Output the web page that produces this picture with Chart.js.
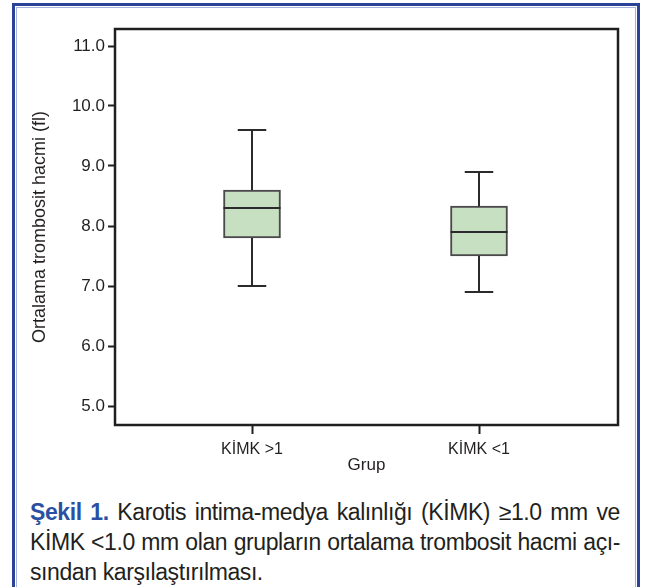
<!DOCTYPE html>
<html>
<head>
<meta charset="utf-8">
<script src="https://cdn.jsdelivr.net/npm/chart.js@4.4.1/dist/chart.umd.min.js"></script>
<style>
  html, body { margin: 0; padding: 0; background: #fff; }
  body { width: 653px; height: 587px; position: relative; overflow: hidden; font-family: "Liberation Sans", Arial, sans-serif; }
  #frame { position: absolute; left: 12px; top: 3px; width: 622px; height: 620px; border: 3px solid #2b4396; }
  #frame2 { position: absolute; left: 1px; top: 1px; right: 1px; bottom: 1px; border: 1px solid #a7b3db; }
  #wrap { position: absolute; left: 0; top: 0; width: 653px; height: 480px; }
  #caption { position: absolute; left: 30px; top: 497px; width: 590px; font-size: 23px; line-height: 30px; color: #231f20; letter-spacing: -0.4px; }
  #caption .ln { text-align: justify; text-align-last: justify; white-space: nowrap; }
  #caption .last { text-align: left; text-align-last: left; }
  #caption b { color: #2b4fa3; }
</style>
</head>
<body>
<div id="frame"><div id="frame2"></div></div>
<div id="wrap"><canvas id="c" width="653" height="480"></canvas></div>
<div id="caption">
  <div class="ln"><b>Şekil 1.</b> Karotis intima-medya kalınlığı (KİMK) ≥1.0 mm ve</div>
  <div class="ln">KİMK &lt;1.0 mm olan grupların ortalama trombosit hacmi açı-</div>
  <div class="ln last">sından karşılaştırılması.</div>
</div>
<script>
const categories = ['KİMK >1', 'KİMK <1'];
const whiskerMin = [7.0, 6.9];
const q1 = [7.8, 7.5];
const median = [8.3, 7.9];
const q3 = [8.6, 8.33];
const whiskerMax = [9.6, 8.9];
const yTickValues = [5, 6, 7, 8, 9, 10, 11];
const yTitle = 'Ortalama trombosit hacmi (fl)';
const xTitle = 'Grup';

const FONT = '"Liberation Sans", Arial, sans-serif';
const INK = '#231f20';

const boxPlugin = {
  id: 'boxExtras',
  afterDatasetsDraw(chart) {
    const ctx = chart.ctx;
    const xs = chart.scales.x, ys = chart.scales.y;
    const meta = chart.getDatasetMeta(0);
    ctx.save();
    ctx.strokeStyle = '#2b2b2b';
    ctx.lineWidth = 2;
    categories.forEach((c, i) => {
      const x = xs.getPixelForValue(i + 1);
      const bar = meta.data[i];
      const half = bar.width / 2;
      const cap = half * 0.5;
      const yMin = ys.getPixelForValue(whiskerMin[i]);
      const yQ1 = ys.getPixelForValue(q1[i]);
      const yMed = ys.getPixelForValue(median[i]);
      const yQ3 = ys.getPixelForValue(q3[i]);
      const yMax = ys.getPixelForValue(whiskerMax[i]);
      ctx.beginPath();
      ctx.moveTo(x, yQ3); ctx.lineTo(x, yMax);
      ctx.moveTo(x - cap, yMax); ctx.lineTo(x + cap, yMax);
      ctx.moveTo(x, yQ1); ctx.lineTo(x, yMin);
      ctx.moveTo(x - cap, yMin); ctx.lineTo(x + cap, yMin);
      ctx.moveTo(x - half, yMed); ctx.lineTo(x + half, yMed);
      ctx.stroke();
    });
    const a = chart.chartArea;
    ctx.strokeStyle = '#1f1f1f';
    ctx.lineWidth = 2.5;
    ctx.strokeRect(a.left, a.top, a.right - a.left, a.bottom - a.top);
    ctx.restore();
  }
};

new Chart(document.getElementById('c'), {
  type: 'bar',
  data: {
    datasets: [{
      data: categories.map((c, i) => ({ x: i + 1, y: [q1[i], q3[i]] })),
      backgroundColor: '#c8e0c2',
      borderColor: '#4a4a4a',
      borderWidth: 2,
      borderSkipped: false,
      barThickness: 57
    }]
  },
  options: {
    responsive: false,
    animation: false,
    events: [],
    layout: { padding: { left: 0, right: 35, top: 29, bottom: 0 } },
    plugins: { legend: { display: false }, tooltip: { enabled: false } },
    scales: {
      x: {
        type: 'linear',
        offset: false,
        min: 1 - 137 / 227,
        max: 2 + 139 / 227,
        afterFit(s) { s.height = 55; },
        afterBuildTicks(s) { s.ticks = categories.map((c, i) => ({ value: i + 1 })); },
        ticks: {
          callback: (v) => categories[Math.round(v) - 1],
          color: INK,
          font: { family: FONT, size: 16 },
          padding: 6,
          maxRotation: 0
        },
        grid: { offset: false, drawOnChartArea: false, tickLength: 9, tickWidth: 2, tickColor: '#1f1f1f' },
        border: { display: false },
        title: { display: true, text: xTitle, color: INK, font: { family: FONT, size: 17 }, padding: { top: 4 } }
      },
      y: {
        type: 'linear',
        min: 5 - 19 / 60,
        max: 11 + 17 / 60,
        afterFit(s) { s.width = 115; },
        afterBuildTicks(s) { s.ticks = yTickValues.map(v => ({ value: v })); },
        ticks: {
          callback: (v) => v.toFixed(1),
          color: INK,
          font: { family: FONT, size: 17 },
          padding: 3
        },
        grid: { drawOnChartArea: false, tickLength: 7, tickWidth: 2, tickColor: '#1f1f1f' },
        border: { display: false },
        title: { display: true, text: yTitle, color: INK, font: { family: FONT, size: 18 }, padding: { top: 29 } }
      }
    }
  },
  plugins: [boxPlugin]
});
</script>
</body>
</html>
